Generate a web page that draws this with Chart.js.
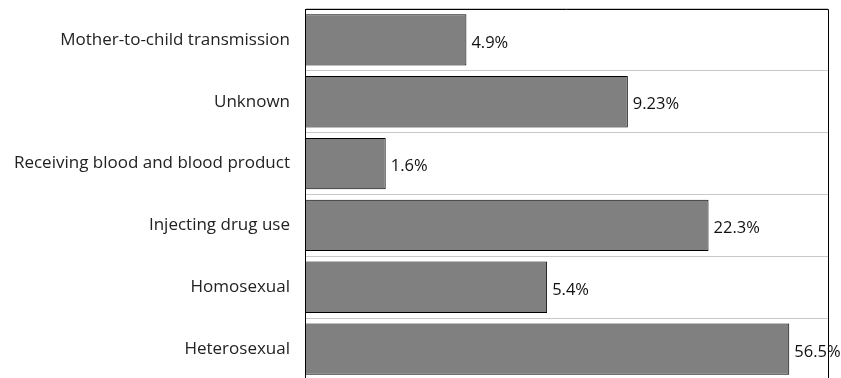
<!DOCTYPE html>
<html>
<head>
<meta charset="utf-8">
<script src="https://cdn.jsdelivr.net/npm/chart.js@4"></script>
<style>
    html, body { margin: 0; padding: 0; background: #fff; overflow: hidden; }
    #wrap { position: relative; width: 841px; height: 380px; }
</style>
</head>
<body>
<div id="wrap"><canvas id="chart"></canvas></div>
<script>
// categories top to bottom
const categories = [
    "Mother-to-child transmission",
    "Unknown",
    "Receiving blood and blood product",
    "Injecting drug use",
    "Homosexual",
    "Heterosexual"
];
// percentage shown next to each bar
const percentages = [4.9, 9.23, 1.6, 22.3, 5.4, 56.5];
// drawn bar length (bars are drawn by rank, not to scale)
const barLengths = [2, 4, 1, 5, 3, 6];
const axisMax = 6.48;

const FONT = "'Open Sans', 'Noto Sans', sans-serif";

// frame lines on top and right of the plot
const framePlugin = {
    id: "frame",
    afterDraw(chart) {
        const { ctx, chartArea: a } = chart;
        ctx.save();
        ctx.strokeStyle = "#000";
        ctx.lineWidth = 1;
        ctx.beginPath();
        ctx.moveTo(a.left, a.top + 0.5);
        ctx.lineTo(a.right + 0.5, a.top + 0.5);
        ctx.lineTo(a.right + 0.5, a.bottom);
        ctx.stroke();
        ctx.restore();
    }
};

// value labels right of each bar
const labelPlugin = {
    id: "valueLabels",
    afterDatasetsDraw(chart) {
        const { ctx } = chart;
        const meta = chart.getDatasetMeta(0);
        ctx.save();
        ctx.font = "16.5px " + FONT;
        ctx.fillStyle = "#111";
        ctx.textBaseline = "middle";
        ctx.textAlign = "left";
        meta.data.forEach((bar, i) => {
            ctx.fillText(percentages[i] + "%", bar.x + 5, bar.y + 3);
        });
        ctx.restore();
    }
};

new Chart(document.getElementById("chart"), {
    type: "bar",
    data: {
        labels: categories,
        datasets: [{
            data: barLengths,
            backgroundColor: "#808080",
            borderColor: "#000",
            borderWidth: 1,
            borderSkipped: false,
            categoryPercentage: 1,
            barPercentage: 0.83
        }]
    },
    options: {
        indexAxis: "y",
        responsive: true,
        maintainAspectRatio: false,
        animation: false,
        layout: { padding: { top: 9, right: 13, bottom: 0, left: 0 } },
        plugins: {
            legend: { display: false },
            tooltip: { enabled: false }
        },
        scales: {
            x: {
                display: false,
                min: 0,
                max: axisMax
            },
            y: {
                afterFit: (s) => {
                    s.width = 305;
                    s.paddingTop = 0;
                    s.paddingBottom = 0;
                },
                border: { display: true, color: "#000", width: 1 },
                grid: {
                    offset: true,
                    color: "#c8c8c8",
                    lineWidth: 1,
                    drawTicks: false
                },
                ticks: {
                    color: "#222",
                    padding: 15,
                    font: { family: FONT, size: 17 }
                }
            }
        }
    },
    plugins: [framePlugin, labelPlugin]
});
</script>
</body>
</html>
